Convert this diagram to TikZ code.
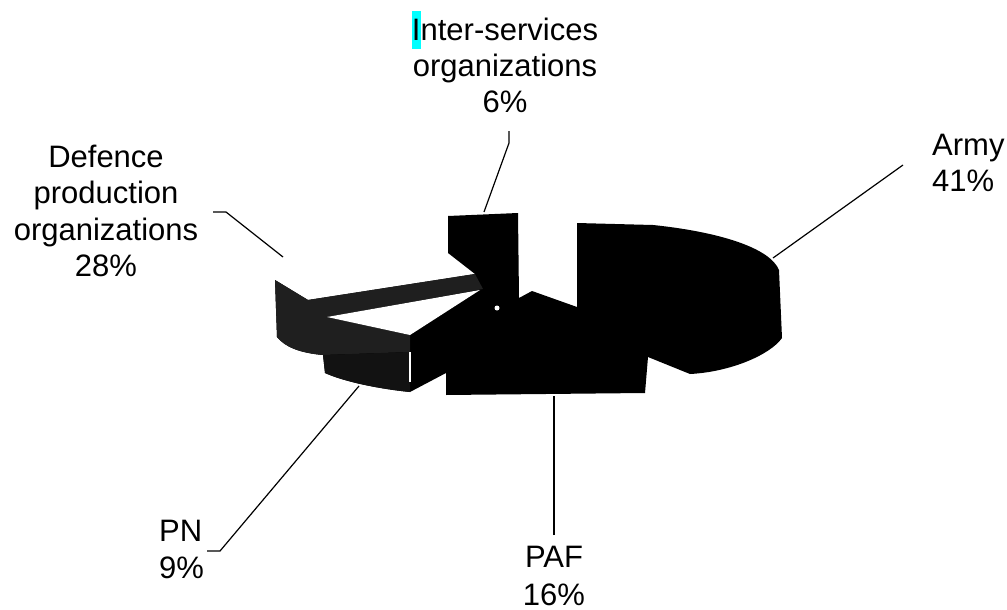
\documentclass[tikz,border=0pt]{standalone}
\usepackage{fontspec}
\setmainfont{Liberation Sans}
\definecolor{hilite}{RGB}{0,255,255}
\begin{document}
\begin{tikzpicture}[x=1pt,y=-1pt,label text/.style={font=\fontsize{31}{36.5}\selectfont,inner sep=0pt},leader/.style={draw=black,line width=1.2pt},pie body/.style={fill=black},pie face/.style={fill=black!88}]
  \useasboundingbox (0,0) rectangle (1007,610);

  \fill[pie body] (275,280) -- (308,300) -- (475,274) -- (448,253) -- (448,216) -- (518,213) -- (519,298) -- (532,291) -- (577,307) -- (577,223) -- (653,225) .. controls (720,232) and (770,248) .. (779,270) -- (782,338) .. controls (770,355) and (730,372) .. (690,374) -- (648,357) -- (645,393) -- (446,395) -- (446,373) -- (410,392) .. controls (380,389) and (345,382) .. (325,373) -- (323,355) .. controls (300,353) and (285,347) .. (277,337) -- cycle;
  \fill[pie face] (275,280) -- (308,300) -- (475,274) -- (483,289) -- (327,317) -- (410,335) -- (410,352) -- (323,355) .. controls (300,353) and (285,347) .. (277,337) -- cycle;
  \fill[pie face,fill=black!93] (323,355) -- (410,352) -- (410,392) .. controls (380,389) and (345,382) .. (325,373) -- cycle;
  \fill[white] (327,317) -- (480,290) -- (410,335) -- cycle;
  \fill[white] (497,308) circle (2.5);
  \draw[white,line width=1.5pt] (410,352) -- (410,382);

  \node[label text,align=center,anchor=base] (isvc) at (505,113) {{\setlength{\fboxsep}{0pt}\colorbox{hilite}{\rule[-0.3em]{0pt}{1.22em}I}}nter-services\\organizations\\6\%};
  \node[label text,align=center,anchor=base] (defence) at (106,276.7) {Defence\\production\\organizations\\28\%};
  \node[label text,align=left,anchor=base west] (army) at (932,191.7) {Army\\41\%};
  \node[label text,align=left,anchor=base west] (pn) at (159,578) {PN\\9\%};
  \node[label text,align=center,anchor=base] (paf) at (554,605.5) {PAF\\[2pt]16\%};

  \coordinate (isvc end) at (509,131);
  \coordinate (isvc bend) at (509,143);
  \coordinate (isvc tip) at (484,212);
  \coordinate (defence end) at (213,212);
  \coordinate (defence bend) at (226,212);
  \coordinate (defence tip) at (283,257);
  \coordinate (army end) at (903,165);
  \coordinate (army tip) at (773,258);
  \coordinate (paf end) at (554,535);
  \coordinate (paf tip) at (554,396);
  \coordinate (pn end) at (207,551);
  \coordinate (pn bend) at (220,551);
  \coordinate (pn tip) at (359,386);

  \draw[leader] (isvc end) -- (isvc bend) -- (isvc tip);
  \draw[leader] (defence end) -- (defence bend) -- (defence tip);
  \draw[leader] (army end) -- (army tip);
  \draw[leader] (paf end) -- (paf tip);
  \draw[leader] (pn end) -- (pn bend) -- (pn tip);
\end{tikzpicture}
\end{document}
